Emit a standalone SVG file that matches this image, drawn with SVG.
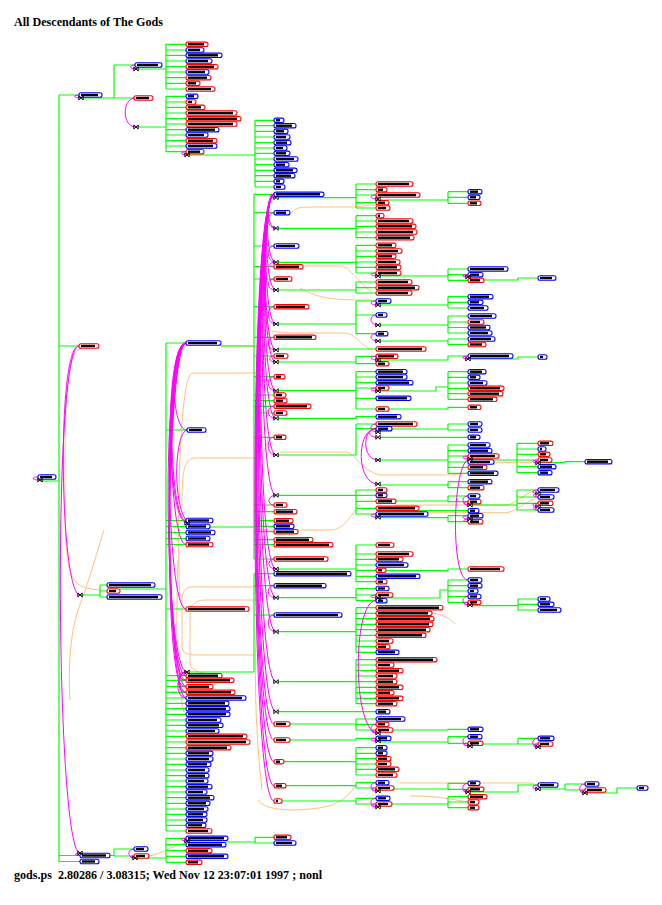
<svg xmlns="http://www.w3.org/2000/svg" xmlns:xlink="http://www.w3.org/1999/xlink" width="662" height="905" viewBox="0 0 662 905">
<style>
.m rect{fill:#fff;stroke:#0000ff;stroke-width:1.1}
.f rect{fill:#fff;stroke:#ff0000;stroke-width:1.1}
.m path,.f path{stroke:#000;stroke-width:2.4;fill:none}
.g{fill:none;stroke:#00ff00;stroke-width:1.2}
.k{fill:none;stroke:#ff00ff;stroke-width:1}
.o{fill:none;stroke:#ffc080;stroke-width:1}
.ttl{font-family:"Liberation Serif","Times New Roman",serif;font-weight:bold;fill:#000}
</style>
<defs><path id="x" d="M-2.2,-2L2.2,2V-2L-2.2,2Z" fill="none" stroke="#000" stroke-width="0.9"/></defs>
<rect width="662" height="905" fill="#fff"/>
<text class="ttl" x="14" y="26" font-size="13" textLength="149" lengthAdjust="spacingAndGlyphs">All Descendants of The Gods</text>
<text class="ttl" x="14" y="879" font-size="12" textLength="308" lengthAdjust="spacingAndGlyphs" xml:space="preserve">gods.ps  2.80286 / 3.08315; Wed Nov 12 23:07:01 1997 ; nonl</text>

<g id="duplicate-links" class="o">
<path d="M81,349C64,352 65,420 65,500S70,588 100,590"/>
<path d="M104,530C96,555 88,585 78,610C70,635 68,670 70,700"/>
<path d="M222,346H255C262,346 264,352 265,360"/>
<path d="M180,600C177,540 178,380 192,373H255C262,373 266,365 268,352"/>
<path d="M182,505C182,470 184,458 196,458H255C262,458 266,450 268,438"/>
<path d="M255,587H192C184,587 182,594 182,602V646C182,652 186,655 196,655H255"/>
<path d="M262,600H205C194,600 190,606 190,616V662C190,668 195,673 206,673"/>
<path d="M178,560C176,620 176,680 184,712"/>
<path d="M291,213C296,207 300,207 320,207H350C362,207 366,205 376,205"/>
<path d="M300,266H340C350,266 355,280 372,292"/>
<path d="M300,288C320,300 340,300 372,300"/>
<path d="M262,330C270,330 275,333 300,333H345C355,333 360,345 372,350"/>
<path d="M280,452H345C355,452 360,470 380,475H448C455,475 460,474 468,473"/>
<path d="M255,530H330C345,530 350,515 360,505"/>
<path d="M395,505H505C515,505 522,495 536,490"/>
<path d="M395,512.7H505C515,512.7 525,502 538,497"/>
<path d="M476,462.7H532"/>
<path d="M400,783H530C535,783 536,786 538,787"/>
<path d="M420,612C440,612 450,618 455,624"/>
<path d="M410,796C440,796 455,800 468,802"/>
<path d="M258,800C265,812 300,812 330,806C345,800 352,792 356,785"/>
<path d="M140,857C160,857 170,845 186,843"/>
<path d="M268,215C262,250 262,300 270,340"/>
<path d="M260,360C255,420 255,520 262,600"/>
<path d="M258,600C254,650 254,720 262,790"/>
</g>

<g id="descent-links" class="g">
<path d="M40,481H59 M59,95V862 M59,95H79 M59,346H79 M59,855.5H80 M59,861.5H80 M81,98H114 M114,65V98 M114,65H135 M114,98H134 M136,69H166 M166,44.3V89 M166,44.3H186 M166,50H186 M166,55.3H186 M166,61H186 M166,66.7H186 M166,72H186 M166,77.7H186 M166,83.3H186 M166,89H186 M136,127H166 M166,96.3V151.7 M166,96.3H186 M166,102H186 M166,107.3H186 M166,113H186 M166,118.7H186 M166,124H186 M166,129.7H186 M166,135H186 M166,140.7H186 M166,146H186 M166,151.7H186 M187,155H255 M255,120.3V187 M255,120.3H274 M255,125.7H274 M255,131.3H274 M255,137H274 M255,142.7H274 M255,148H274 M255,153.3H274 M255,159H274 M255,164.7H274 M255,170.3H274 M255,175.7H274 M255,181.3H274 M255,187H274"/>
<path d="M80,595H100 M100,585V597 M100,585H107 M100,591H107 M100,597H107 M120,589H166 M166,343V831 M166,343H186 M166,430H187 M166,520.5H186 M166,526.5H186 M166,532.5H186 M166,538.5H186 M166,544.5H186 M166,609H186 M166,675.7H186 M166,680.3H186 M166,686.7H186 M166,692.3H186 M166,698H186 M166,703.3H186 M166,708.7H186 M166,714.3H186 M166,720H186 M166,725.3H186 M166,731H186 M166,736.3H186 M166,742H186 M166,747.7H186 M166,753.3H186 M166,759H186 M166,764.3H186 M166,770H186 M166,775.7H186 M166,781H186 M166,786.7H186 M166,792H186 M166,797.7H186 M166,803.3H186 M166,809H186 M166,814.3H186 M166,820H186 M166,825.3H186 M166,831H186"/>
<path d="M221,346H254 M254,194.3V559 M254,194.3H274 M254,212.7H274 M254,246H274 M254,266.7H274 M254,279H274 M254,306.7H274 M254,337.3H274 M254,356H274 M254,376.7H274 M254,395H274 M254,400.7H274 M254,406.3H274 M254,413H274 M254,437.3H274 M254,505H274 M254,511.7H274 M254,520.7H274 M254,526.3H274 M254,531.7H274 M254,539.7H274 M254,544.7H274 M254,559H274 M187,527H254 M187,672H254 M254,573.7V672 M254,573.7H274 M254,585.7H274 M254,615H274"/>
<path d="M110,855.5H114 M114,849V856 M114,849H134 M114,856H134 M135,858H166 M166,838.3V862.3 M166,838.3H186 M166,844.7H186 M166,850.7H186 M166,856.3H186 M166,862.3H186 M187,842H255 M255,837.3V843 M255,837.3H274 M255,843H274"/>
<path d="M278,197.7H356 M356,184V208 M356,184H376 M356,189.7H376 M356,195H376 M356,202.7H376 M356,208H376 M278,228.3H356 M356,215.7V237.7 M356,215.7H376 M356,221H376 M356,226.3H376 M356,232H376 M356,237.7H376 M278,262.3H356 M356,245.3V273 M356,245.3H376 M356,251H376 M356,256.3H376 M356,262H376 M356,267.3H376 M356,273H376 M278,290H356 M356,282V293 M356,282H376 M356,287.7H376 M356,293H376 M278,324H356 M356,301V333.7 M356,301H376 M356,315H376 M356,333.7H376 M278,349H376 M278,362H356 M356,356.3V363.7 M356,356.3H376 M356,363.7H376 M278,390.7H356 M356,371.7V409 M356,371.7H376 M356,377H376 M356,382.7H376 M356,388H376 M356,398.3H376 M356,409H376 M278,418.3H356V416.7H376 M278,455H356V424 M356,424H376 M356,428.7H376 M278,495.3H356 M356,490V514 M356,490H376 M356,495.3H376 M356,501.3H376 M356,508.3H376 M356,514H376 M278,569H356 M356,545V581.7 M356,545H376 M356,554H376 M356,559.3H376 M356,565H376 M356,570.3H376 M356,576.3H376 M356,581.7H376 M278,597.7H356 M356,588.5V600.7 M356,588.5H376 M356,595H376 M356,600.7H376 M278,631.7H356 M356,607.7V652.3 M356,607.7H376 M356,613.3H376 M356,618.7H376 M356,624.3H376 M356,629.7H376 M356,635.3H376 M356,641H376 M356,646.7H376 M356,652.3H376 M278,681.7H356 M356,659.7V703.7 M356,659.7H376 M356,665H376 M356,670.7H376 M356,676H376 M356,681.7H376 M356,687.3H376 M356,692.7H376 M356,698.3H376 M356,703.7H376 M278,711.7H376 M290,724H356 M356,719V730 M356,719H376 M356,724.3H376 M356,730H376 M290,740H356V738.3H376 M284,761.7H356 M356,747.7V775 M356,747.7H376 M356,753.3H376 M356,758.7H376 M356,764H376 M356,769.3H376 M356,775H376 M286,785.7H356 M356,782.7V788 M356,782.7H376 M356,788H376 M282,801H356 M356,798.3V804 M356,798.3H376 M356,804H376"/>
<path d="M380,200H448 M448,191.7V203.3 M448,191.7H468 M448,197.3H468 M448,203.3H468 M380,276H448 M448,269V280.3 M448,269H468 M448,274.7H468 M448,280.3H468 M380,305H448 M448,296.7V308 M448,296.7H468 M448,302.3H468 M448,308H468 M380,325H448 M448,316V333 M448,316H468 M448,322H468 M448,327.5H468 M448,333H468 M380,341H448 M448,339V344.5 M448,339H468 M448,344.5H468 M380,360H448V356H468 M380,391H436V387H448 M448,371.7V399.3 M448,371.7H468 M448,377.3H468 M448,383H468 M448,388.3H468 M448,393.7H468 M448,399.3H468 M389,409H448V407.3H468 M380,429H448 M448,424V430 M448,424H468 M448,430H468 M380,437.3H468 M380,460H448 M448,445V473.3 M448,445H468 M448,450.7H468 M448,456H468 M448,462H468 M448,467.3H468 M448,473.3H468 M380,485H448 M448,481.7V487.7 M448,481.7H468 M448,487.7H468 M396,501H448 M448,496V501.7 M448,496H468 M448,501.7H468 M419,510.7H468 M380,517.7H448 M448,515.7V521.7 M448,515.7H468 M448,521.7H468 M386,570.7H448V569H468 M380,598H440V590H448 M448,580V602.3 M448,580H468 M448,585.7H468 M448,591H468 M448,596.5H468 M448,602.3H468 M393,730H448V729.3H468 M380,742H448 M448,736.7V743.3 M448,736.7H468 M448,743.3H468 M380,789H448 M448,783.3V789.3 M448,783.3H468 M448,789.3H468 M380,804H448 M448,796.7V807.7 M448,796.7H468 M448,802H468 M448,807.7H468"/>
<path d="M484,280H518V278H538 M470,359H518V357H538 M472,460H517 M517,443.3V472.7 M517,443.3H538 M517,449H538 M517,454.3H538 M517,460H538 M517,466.7H538 M517,472.7H538 M472,505H517 M517,490V510 M517,490H538 M517,497H538 M517,503.3H538 M517,510H538 M472,605.7H518 M518,599V610 M518,599H538 M518,604.3H538 M518,610H538 M472,744H518 M518,738.3V744 M518,738.3H538 M518,744H538 M470,792H518V785H538 M540,462.7H565V461.7H585 M540,789H565 M565,784V790 M565,784H585 M565,790H585 M587,793H617V788H637"/>
</g>

<g id="marriage-links" class="k">
<path d="M38,477C31,477 31,480 40,480 M79,95C73,95 73,98 81,98 M135,65C129,65 129,69 136,69 M134,98C122,100 122,127 136,127 M186,151.7C180,151.7 180,155 187,155 M79,346C56,346 60,595 80,595 M79,346C52,346 56,853 80,853 M80,855.5C74,855.5 74,853 80,853 M134,849C127,849 127,858 135,858 M134,856C129,856 129,858 135,858 M186,838.3C180,838.3 180,841 187,841"/>
<path d="M186,343C170,343 170,430 187,430 M186,343C166,343 168,520.5 186,520.5 M186,343C164,343 166,523 187,523 M186,343C165,343 168,544.5 186,544.5 M186,343C162,343 166,609 186,609 M186,343C160,343 164,672 187,672 M186,675.7C163,675.7 165,343 186,343 M186,680.3C161,680.3 167,343 186,343 M186,686.7C165,686.7 163,343 186,343 M186,692.3C160,692.3 168,343 186,343 M186,698H186C166,698 161,343 186,343 M186,675.7C178,675.7 178,672 187,672 M186,680.3C178,680.3 178,672 187,672 M186,686.7C177,686.7 177,672 187,672 M186,692.3C176,692.3 176,672 187,672 M186,698C175,698 175,672 187,672 M187,430C175,432 172,500 186,520.5"/>
<path d="M274,194.3C268,194.3 268,197.7 276,197.7 M274,194.3C266,194.3 266,228.3 276,228.3 M274,194.3C265,194.3 265,262.3 276,262.3 M274,194.3C264,194.3 264,290 276,290 M274,194.3C263,194.3 263,324 276,324 M274,194.3C262,194.3 262,350 276,350 M274,194.3C262,194.3 261,362 276,362 M274,194.3C261,194.3 261,390.7 276,390.7 M274,194.3C260,194.3 260,418.3 276,418.3 M274,194.3C259,194.3 259,455 276,455 M274,194.3C258,194.3 258,495.3 276,495.3 M274,194.3C256,194.3 256,569 276,569 M274,194.3C255,194.3 255,597.7 276,597.7 M274,194.3C254,194.3 254,631.7 276,631.7 M274,194.3C253,194.3 253,681.7 276,681.7 M274,194.3C252,194.3 252,711.7 276,711.7 M274,194.3C251,194.3 251,724 274,724 M274,194.3C251,194.3 250,740 274,740 M274,194.3C250,194.3 250,761.7 274,761.7 M274,194.3C249,194.3 250,785.7 274,785.7 M274,194.3C248,194.3 249,801 274,801"/>
<path d="M274,212.7C266,212.7 266,228.3 276,228.3 M274,246C266,246 266,262.3 276,262.3 M274,266.7C268,266.7 268,262.3 276,262.3 M274,279C266,279 266,290 276,290 M274,306.7C266,306.7 266,324 276,324 M274,337.3C266,337.3 266,350 276,350 M274,356C268,356 268,362 276,362 M274,376.7C266,376.7 266,390.7 276,390.7 M274,406.3C266,406.3 266,418.3 276,418.3 M274,437.3C266,437.3 266,455 276,455 M274,505C267,505 267,495.3 276,495.3 M274,559C267,559 267,569 276,569 M274,585.7C266,585.7 266,597.7 276,597.7 M274,615C266,615 266,631.7 276,631.7"/>
<path d="M376,195C369,195 369,199 378,199 M376,273C369,273 369,276 378,276 M376,301C369,301 369,305 378,305 M376,315C369,315 369,325 378,325 M376,333.7C369,333.7 369,341 378,341 M376,356.3C369,356.3 369,360 378,360 M376,388C369,388 369,391 378,391 M376,424C369,424 369,432 378,432 M376,428.7C367,428.7 367,437.3 378,437.3 M376,428.7C362,428.7 362,460 378,460 M376,428.7C356,428.7 356,484 378,484 M376,514C369,514 369,517.3 378,517.3 M376,595C369,595 369,598 378,598 M376,600.7C352,600.7 352,733 378,733 M376,724.3C369,724.3 369,733 378,733 M376,730C370,730 370,733 378,733 M376,738.3C369,738.3 369,741 378,741 M376,782.7C369,782.7 369,791 378,791 M376,788C370,788 370,791 378,791 M376,798.3C369,798.3 369,807 378,807 M376,804C370,804 370,807 378,807"/>
<path d="M468,274.7C461,274.7 461,277 468,277 M468,356C461,356 461,359 468,359 M468,456C461,456 461,459 470,459 M468,580C450,580 452,459 470,459 M468,496C461,496 461,505 470,505 M468,501.7C462,501.7 462,505 470,505 M468,515.7C461,515.7 461,519 470,519 M468,521.7C462,521.7 462,519 470,519 M468,596.5C461,596.5 461,605 470,605 M468,602.3C462,602.3 462,605 470,605 M468,736.7C461,736.7 461,746 470,746 M468,743.3C462,743.3 462,746 470,746 M468,783.3C461,783.3 461,792 468,792 M468,789.3C462,789.3 462,792 468,792"/>
<path d="M538,460C531,460 531,463 538,463 M538,490C531,490 531,493.5 538,493.5 M538,497C532,497 532,493.5 538,493.5 M538,503.3C531,503.3 531,506.5 538,506.5 M538,510C532,510 532,506.5 538,506.5 M538,738.3C531,738.3 531,747 538,747 M538,744C532,744 532,747 538,747 M538,785C531,785 531,789 538,789 M585,784C578,784 578,793 585,793 M585,790C579,790 579,793 585,793"/>
</g>

<g id="nodes">
<g id="n38_477" class="m" transform="translate(38,477)"><rect y="-2.2" width="18" height="4.4" rx="2"/><path d="M2,0h12"/></g>
<g id="n79_95" class="m" transform="translate(79,95)"><rect y="-2.2" width="23" height="4.4" rx="2"/><path d="M2,0h17"/></g>
<g id="n79_346" class="f" transform="translate(79,346)"><rect y="-2.2" width="20" height="4.4" rx="2"/><path d="M2,0h14"/></g>
<g id="n107_585" class="m" transform="translate(107,585)"><rect y="-2.2" width="48" height="4.4" rx="2"/><path d="M2,0h42"/></g>
<g id="n107_591" class="f" transform="translate(107,591)"><rect y="-2.2" width="13" height="4.4" rx="2"/><path d="M2,0h7"/></g>
<g id="n107_597" class="m" transform="translate(107,597)"><rect y="-2.2" width="55" height="4.4" rx="2"/><path d="M2,0h49"/></g>
<g id="n80_855" class="m" transform="translate(80,855.5)"><rect y="-2.2" width="30" height="4.4" rx="2"/><path d="M2,0h24"/></g>
<g id="n80_861" class="m" transform="translate(80,861.5)"><rect y="-2.2" width="19" height="4.4" rx="2"/><path d="M2,0h13"/></g>
<g id="n135_65" class="m" transform="translate(135,65)"><rect y="-2.2" width="27" height="4.4" rx="2"/><path d="M2,0h21"/></g>
<g id="n134_98" class="f" transform="translate(134,98)"><rect y="-2.2" width="19" height="4.4" rx="2"/><path d="M2,0h13"/></g>
<g id="n134_849" class="m" transform="translate(134,849)"><rect y="-2.2" width="14" height="4.4" rx="2"/><path d="M2,0h8"/></g>
<g id="n134_856" class="f" transform="translate(134,856)"><rect y="-2.2" width="15" height="4.4" rx="2"/><path d="M2,0h9"/></g>

<g id="n186_44" class="f" transform="translate(186,44.3)"><rect y="-2.2" width="22" height="4.4" rx="2"/><path d="M2,0h16"/></g>
<g id="n186_50" class="m" transform="translate(186,50)"><rect y="-2.2" width="18" height="4.4" rx="2"/><path d="M2,0h12"/></g>
<g id="n186_55" class="m" transform="translate(186,55.3)"><rect y="-2.2" width="36" height="4.4" rx="2"/><path d="M2,0h30"/></g>
<g id="n186_61" class="m" transform="translate(186,61)"><rect y="-2.2" width="26" height="4.4" rx="2"/><path d="M2,0h20"/></g>
<g id="n186_66" class="f" transform="translate(186,66.7)"><rect y="-2.2" width="32" height="4.4" rx="2"/><path d="M2,0h26"/></g>
<g id="n186_72" class="m" transform="translate(186,72)"><rect y="-2.2" width="23" height="4.4" rx="2"/><path d="M2,0h17"/></g>
<g id="n186_77" class="f" transform="translate(186,77.7)"><rect y="-2.2" width="25" height="4.4" rx="2"/><path d="M2,0h19"/></g>
<g id="n186_83" class="f" transform="translate(186,83.3)"><rect y="-2.2" width="14" height="4.4" rx="2"/><path d="M2,0h8"/></g>
<g id="n186_89" class="f" transform="translate(186,89)"><rect y="-2.2" width="29" height="4.4" rx="2"/><path d="M2,0h23"/></g>
<g id="n186_96" class="m" transform="translate(186,96.3)"><rect y="-2.2" width="12" height="4.4" rx="2"/><path d="M2,0h6"/></g>
<g id="n186_102" class="f" transform="translate(186,102)"><rect y="-2.2" width="10" height="4.4" rx="2"/><path d="M2,0h4"/></g>
<g id="n186_107" class="f" transform="translate(186,107.3)"><rect y="-2.2" width="19" height="4.4" rx="2"/><path d="M2,0h13"/></g>
<g id="n186_113" class="f" transform="translate(186,113)"><rect y="-2.2" width="51" height="4.4" rx="2"/><path d="M2,0h45"/></g>
<g id="n186_118" class="f" transform="translate(186,118.7)"><rect y="-2.2" width="55" height="4.4" rx="2"/><path d="M2,0h49"/></g>
<g id="n186_124" class="f" transform="translate(186,124)"><rect y="-2.2" width="51" height="4.4" rx="2"/><path d="M2,0h45"/></g>
<g id="n186_129" class="m" transform="translate(186,129.7)"><rect y="-2.2" width="33" height="4.4" rx="2"/><path d="M2,0h27"/></g>
<g id="n186_135" class="m" transform="translate(186,135)"><rect y="-2.2" width="22" height="4.4" rx="2"/><path d="M2,0h16"/></g>
<g id="n186_140" class="f" transform="translate(186,140.7)"><rect y="-2.2" width="31" height="4.4" rx="2"/><path d="M2,0h25"/></g>
<g id="n186_146" class="m" transform="translate(186,146)"><rect y="-2.2" width="31" height="4.4" rx="2"/><path d="M2,0h25"/></g>
<g id="n186_151" class="f" transform="translate(186,151.7)"><rect y="-2.2" width="18" height="4.4" rx="2"/><path d="M2,0h12"/></g>

<g id="n274_120" class="m" transform="translate(274,120.3)"><rect y="-2.2" width="10" height="4.4" rx="2"/><path d="M2,0h4"/></g>
<g id="n274_125" class="m" transform="translate(274,125.7)"><rect y="-2.2" width="22" height="4.4" rx="2"/><path d="M2,0h16"/></g>
<g id="n274_131" class="m" transform="translate(274,131.3)"><rect y="-2.2" width="14" height="4.4" rx="2"/><path d="M2,0h8"/></g>
<g id="n274_137" class="m" transform="translate(274,137)"><rect y="-2.2" width="16" height="4.4" rx="2"/><path d="M2,0h10"/></g>
<g id="n274_142" class="m" transform="translate(274,142.7)"><rect y="-2.2" width="17" height="4.4" rx="2"/><path d="M2,0h11"/></g>
<g id="n274_148" class="m" transform="translate(274,148)"><rect y="-2.2" width="13" height="4.4" rx="2"/><path d="M2,0h7"/></g>
<g id="n274_153" class="m" transform="translate(274,153.3)"><rect y="-2.2" width="16" height="4.4" rx="2"/><path d="M2,0h10"/></g>
<g id="n274_159" class="m" transform="translate(274,159)"><rect y="-2.2" width="24" height="4.4" rx="2"/><path d="M2,0h18"/></g>
<g id="n274_164" class="m" transform="translate(274,164.7)"><rect y="-2.2" width="15" height="4.4" rx="2"/><path d="M2,0h9"/></g>
<g id="n274_170" class="m" transform="translate(274,170.3)"><rect y="-2.2" width="23" height="4.4" rx="2"/><path d="M2,0h17"/></g>
<g id="n274_175" class="m" transform="translate(274,175.7)"><rect y="-2.2" width="21" height="4.4" rx="2"/><path d="M2,0h15"/></g>
<g id="n274_181" class="m" transform="translate(274,181.3)"><rect y="-2.2" width="10" height="4.4" rx="2"/><path d="M2,0h4"/></g>
<g id="n274_187" class="m" transform="translate(274,187)"><rect y="-2.2" width="11" height="4.4" rx="2"/><path d="M2,0h5"/></g>

<g id="n186_343" class="m" transform="translate(186,343)"><rect y="-2.2" width="35" height="4.4" rx="2"/><path d="M2,0h29"/></g>
<g id="n187_430" class="m" transform="translate(187,430)"><rect y="-2.2" width="19" height="4.4" rx="2"/><path d="M2,0h13"/></g>
<g id="n186_520" class="m" transform="translate(186,520.5)"><rect y="-2.2" width="27" height="4.4" rx="2"/><path d="M2,0h21"/></g>
<g id="n186_526" class="m" transform="translate(186,526.5)"><rect y="-2.2" width="24" height="4.4" rx="2"/><path d="M2,0h18"/></g>
<g id="n186_532" class="m" transform="translate(186,532.5)"><rect y="-2.2" width="29" height="4.4" rx="2"/><path d="M2,0h23"/></g>
<g id="n186_538" class="m" transform="translate(186,538.5)"><rect y="-2.2" width="24" height="4.4" rx="2"/><path d="M2,0h18"/></g>
<g id="n186_544" class="f" transform="translate(186,544.5)"><rect y="-2.2" width="27" height="4.4" rx="2"/><path d="M2,0h21"/></g>
<g id="n186_609" class="f" transform="translate(186,609)"><rect y="-2.2" width="63" height="4.4" rx="2"/><path d="M2,0h57"/></g>
<g id="n186_675" class="f" transform="translate(186,675.7)"><rect y="-2.2" width="36" height="4.4" rx="2"/><path d="M2,0h30"/></g>
<g id="n186_680" class="f" transform="translate(186,680.3)"><rect y="-2.2" width="48" height="4.4" rx="2"/><path d="M2,0h42"/></g>
<g id="n186_686" class="f" transform="translate(186,686.7)"><rect y="-2.2" width="27" height="4.4" rx="2"/><path d="M2,0h21"/></g>
<g id="n186_692" class="f" transform="translate(186,692.3)"><rect y="-2.2" width="49" height="4.4" rx="2"/><path d="M2,0h43"/></g>
<g id="n186_698" class="m" transform="translate(186,698)"><rect y="-2.2" width="60" height="4.4" rx="2"/><path d="M2,0h54"/></g>
<g id="n186_703" class="m" transform="translate(186,703.3)"><rect y="-2.2" width="43" height="4.4" rx="2"/><path d="M2,0h37"/></g>
<g id="n186_708" class="m" transform="translate(186,708.7)"><rect y="-2.2" width="44" height="4.4" rx="2"/><path d="M2,0h38"/></g>
<g id="n186_714" class="m" transform="translate(186,714.3)"><rect y="-2.2" width="44" height="4.4" rx="2"/><path d="M2,0h38"/></g>
<g id="n186_720" class="m" transform="translate(186,720)"><rect y="-2.2" width="35" height="4.4" rx="2"/><path d="M2,0h29"/></g>
<g id="n186_725" class="m" transform="translate(186,725.3)"><rect y="-2.2" width="37" height="4.4" rx="2"/><path d="M2,0h31"/></g>
<g id="n186_731" class="m" transform="translate(186,731)"><rect y="-2.2" width="33" height="4.4" rx="2"/><path d="M2,0h27"/></g>
<g id="n186_736" class="f" transform="translate(186,736.3)"><rect y="-2.2" width="61" height="4.4" rx="2"/><path d="M2,0h55"/></g>
<g id="n186_742" class="f" transform="translate(186,742)"><rect y="-2.2" width="64" height="4.4" rx="2"/><path d="M2,0h58"/></g>
<g id="n186_747" class="f" transform="translate(186,747.7)"><rect y="-2.2" width="45" height="4.4" rx="2"/><path d="M2,0h39"/></g>
<g id="n186_753" class="m" transform="translate(186,753.3)"><rect y="-2.2" width="27" height="4.4" rx="2"/><path d="M2,0h21"/></g>
<g id="n186_759" class="m" transform="translate(186,759)"><rect y="-2.2" width="27" height="4.4" rx="2"/><path d="M2,0h21"/></g>
<g id="n186_764" class="m" transform="translate(186,764.3)"><rect y="-2.2" width="25" height="4.4" rx="2"/><path d="M2,0h19"/></g>
<g id="n186_770" class="m" transform="translate(186,770)"><rect y="-2.2" width="23" height="4.4" rx="2"/><path d="M2,0h17"/></g>
<g id="n186_775" class="m" transform="translate(186,775.7)"><rect y="-2.2" width="23" height="4.4" rx="2"/><path d="M2,0h17"/></g>
<g id="n186_781" class="m" transform="translate(186,781)"><rect y="-2.2" width="22" height="4.4" rx="2"/><path d="M2,0h16"/></g>
<g id="n186_786" class="m" transform="translate(186,786.7)"><rect y="-2.2" width="26" height="4.4" rx="2"/><path d="M2,0h20"/></g>
<g id="n186_792" class="m" transform="translate(186,792)"><rect y="-2.2" width="21" height="4.4" rx="2"/><path d="M2,0h15"/></g>
<g id="n186_797" class="m" transform="translate(186,797.7)"><rect y="-2.2" width="28" height="4.4" rx="2"/><path d="M2,0h22"/></g>
<g id="n186_803" class="m" transform="translate(186,803.3)"><rect y="-2.2" width="24" height="4.4" rx="2"/><path d="M2,0h18"/></g>
<g id="n186_809" class="m" transform="translate(186,809)"><rect y="-2.2" width="22" height="4.4" rx="2"/><path d="M2,0h16"/></g>
<g id="n186_814" class="m" transform="translate(186,814.3)"><rect y="-2.2" width="21" height="4.4" rx="2"/><path d="M2,0h15"/></g>
<g id="n186_820" class="m" transform="translate(186,820)"><rect y="-2.2" width="21" height="4.4" rx="2"/><path d="M2,0h15"/></g>
<g id="n186_825" class="m" transform="translate(186,825.3)"><rect y="-2.2" width="20" height="4.4" rx="2"/><path d="M2,0h14"/></g>
<g id="n186_831" class="f" transform="translate(186,831)"><rect y="-2.2" width="26" height="4.4" rx="2"/><path d="M2,0h20"/></g>
<g id="n186_838" class="m" transform="translate(186,838.3)"><rect y="-2.2" width="42" height="4.4" rx="2"/><path d="M2,0h36"/></g>
<g id="n186_844" class="m" transform="translate(186,844.7)"><rect y="-2.2" width="40" height="4.4" rx="2"/><path d="M2,0h34"/></g>
<g id="n186_850" class="f" transform="translate(186,850.7)"><rect y="-2.2" width="26" height="4.4" rx="2"/><path d="M2,0h20"/></g>
<g id="n186_856" class="m" transform="translate(186,856.3)"><rect y="-2.2" width="42" height="4.4" rx="2"/><path d="M2,0h36"/></g>
<g id="n186_862" class="f" transform="translate(186,862.3)"><rect y="-2.2" width="16" height="4.4" rx="2"/><path d="M2,0h10"/></g>

<g id="n274_194" class="m" transform="translate(274,194.3)"><rect y="-2.2" width="50" height="4.4" rx="2"/><path d="M2,0h44"/></g>
<g id="n274_212" class="m" transform="translate(274,212.7)"><rect y="-2.2" width="16" height="4.4" rx="2"/><path d="M2,0h10"/></g>
<g id="n274_246" class="m" transform="translate(274,246)"><rect y="-2.2" width="25" height="4.4" rx="2"/><path d="M2,0h19"/></g>
<g id="n274_266" class="f" transform="translate(274,266.7)"><rect y="-2.2" width="29" height="4.4" rx="2"/><path d="M2,0h23"/></g>
<g id="n274_279" class="f" transform="translate(274,279)"><rect y="-2.2" width="18" height="4.4" rx="2"/><path d="M2,0h12"/></g>
<g id="n274_306" class="f" transform="translate(274,306.7)"><rect y="-2.2" width="35" height="4.4" rx="2"/><path d="M2,0h29"/></g>
<g id="n274_337" class="f" transform="translate(274,337.3)"><rect y="-2.2" width="42" height="4.4" rx="2"/><path d="M2,0h36"/></g>
<g id="n274_356" class="f" transform="translate(274,356)"><rect y="-2.2" width="14" height="4.4" rx="2"/><path d="M2,0h8"/></g>
<g id="n274_376" class="f" transform="translate(274,376.7)"><rect y="-2.2" width="11" height="4.4" rx="2"/><path d="M2,0h5"/></g>
<g id="n274_395" class="f" transform="translate(274,395)"><rect y="-2.2" width="12" height="4.4" rx="2"/><path d="M2,0h6"/></g>
<g id="n274_400" class="f" transform="translate(274,400.7)"><rect y="-2.2" width="13" height="4.4" rx="2"/><path d="M2,0h7"/></g>
<g id="n274_406" class="f" transform="translate(274,406.3)"><rect y="-2.2" width="37" height="4.4" rx="2"/><path d="M2,0h31"/></g>
<g id="n274_413" class="f" transform="translate(274,413)"><rect y="-2.2" width="13" height="4.4" rx="2"/><path d="M2,0h7"/></g>
<g id="n274_437" class="f" transform="translate(274,437.3)"><rect y="-2.2" width="12" height="4.4" rx="2"/><path d="M2,0h6"/></g>
<g id="n274_505" class="f" transform="translate(274,505)"><rect y="-2.2" width="13" height="4.4" rx="2"/><path d="M2,0h7"/></g>
<g id="n274_511" class="f" transform="translate(274,511.7)"><rect y="-2.2" width="23" height="4.4" rx="2"/><path d="M2,0h17"/></g>
<g id="n274_520" class="f" transform="translate(274,520.7)"><rect y="-2.2" width="19" height="4.4" rx="2"/><path d="M2,0h13"/></g>
<g id="n274_526" class="m" transform="translate(274,526.3)"><rect y="-2.2" width="20" height="4.4" rx="2"/><path d="M2,0h14"/></g>
<g id="n274_531" class="f" transform="translate(274,531.7)"><rect y="-2.2" width="24" height="4.4" rx="2"/><path d="M2,0h18"/></g>
<g id="n274_539" class="f" transform="translate(274,539.7)"><rect y="-2.2" width="39" height="4.4" rx="2"/><path d="M2,0h33"/></g>
<g id="n274_544" class="f" transform="translate(274,544.7)"><rect y="-2.2" width="59" height="4.4" rx="2"/><path d="M2,0h53"/></g>
<g id="n274_559" class="f" transform="translate(274,559)"><rect y="-2.2" width="54" height="4.4" rx="2"/><path d="M2,0h48"/></g>
<g id="n274_573" class="m" transform="translate(274,573.7)"><rect y="-2.2" width="77" height="4.4" rx="2"/><path d="M2,0h71"/></g>
<g id="n274_585" class="m" transform="translate(274,585.7)"><rect y="-2.2" width="52" height="4.4" rx="2"/><path d="M2,0h46"/></g>
<g id="n274_615" class="m" transform="translate(274,615)"><rect y="-2.2" width="68" height="4.4" rx="2"/><path d="M2,0h62"/></g>
<g id="n274_724" class="f" transform="translate(274,724)"><rect y="-2.2" width="16" height="4.4" rx="2"/><path d="M2,0h10"/></g>
<g id="n274_740" class="f" transform="translate(274,740)"><rect y="-2.2" width="16" height="4.4" rx="2"/><path d="M2,0h10"/></g>
<g id="n274_761" class="f" transform="translate(274,761.7)"><rect y="-2.2" width="10" height="4.4" rx="2"/><path d="M2,0h4"/></g>
<g id="n274_785" class="f" transform="translate(274,785.7)"><rect y="-2.2" width="12" height="4.4" rx="2"/><path d="M2,0h6"/></g>
<g id="n274_801" class="f" transform="translate(274,801)"><rect y="-2.2" width="8" height="4.4" rx="2"/><path d="M2,0h2"/></g>
<g id="n274_837" class="f" transform="translate(274,837.3)"><rect y="-2.2" width="17" height="4.4" rx="2"/><path d="M2,0h11"/></g>
<g id="n274_843" class="m" transform="translate(274,843)"><rect y="-2.2" width="22" height="4.4" rx="2"/><path d="M2,0h16"/></g>

<g id="n376_184" class="f" transform="translate(376,184)"><rect y="-2.2" width="37" height="4.4" rx="2"/><path d="M2,0h31"/></g>
<g id="n376_189" class="f" transform="translate(376,189.7)"><rect y="-2.2" width="11" height="4.4" rx="2"/><path d="M2,0h5"/></g>
<g id="n376_195" class="f" transform="translate(376,195)"><rect y="-2.2" width="44" height="4.4" rx="2"/><path d="M2,0h38"/></g>
<g id="n376_202" class="f" transform="translate(376,202.7)"><rect y="-2.2" width="13" height="4.4" rx="2"/><path d="M2,0h7"/></g>
<g id="n376_208" class="f" transform="translate(376,208)"><rect y="-2.2" width="14" height="4.4" rx="2"/><path d="M2,0h8"/></g>
<g id="n376_215" class="f" transform="translate(376,215.7)"><rect y="-2.2" width="8" height="4.4" rx="2"/><path d="M2,0h2"/></g>
<g id="n376_221" class="f" transform="translate(376,221)"><rect y="-2.2" width="37" height="4.4" rx="2"/><path d="M2,0h31"/></g>
<g id="n376_226" class="f" transform="translate(376,226.3)"><rect y="-2.2" width="40" height="4.4" rx="2"/><path d="M2,0h34"/></g>
<g id="n376_232" class="f" transform="translate(376,232)"><rect y="-2.2" width="41" height="4.4" rx="2"/><path d="M2,0h35"/></g>
<g id="n376_237" class="f" transform="translate(376,237.7)"><rect y="-2.2" width="38" height="4.4" rx="2"/><path d="M2,0h32"/></g>
<g id="n376_245" class="f" transform="translate(376,245.3)"><rect y="-2.2" width="20" height="4.4" rx="2"/><path d="M2,0h14"/></g>
<g id="n376_251" class="f" transform="translate(376,251)"><rect y="-2.2" width="26" height="4.4" rx="2"/><path d="M2,0h20"/></g>
<g id="n376_256" class="f" transform="translate(376,256.3)"><rect y="-2.2" width="20" height="4.4" rx="2"/><path d="M2,0h14"/></g>
<g id="n376_262" class="f" transform="translate(376,262)"><rect y="-2.2" width="24" height="4.4" rx="2"/><path d="M2,0h18"/></g>
<g id="n376_267" class="f" transform="translate(376,267.3)"><rect y="-2.2" width="25" height="4.4" rx="2"/><path d="M2,0h19"/></g>
<g id="n376_273" class="f" transform="translate(376,273)"><rect y="-2.2" width="25" height="4.4" rx="2"/><path d="M2,0h19"/></g>
<g id="n376_282" class="f" transform="translate(376,282)"><rect y="-2.2" width="36" height="4.4" rx="2"/><path d="M2,0h30"/></g>
<g id="n376_287" class="f" transform="translate(376,287.7)"><rect y="-2.2" width="43" height="4.4" rx="2"/><path d="M2,0h37"/></g>
<g id="n376_293" class="f" transform="translate(376,293)"><rect y="-2.2" width="36" height="4.4" rx="2"/><path d="M2,0h30"/></g>
<g id="n376_301" class="m" transform="translate(376,301)"><rect y="-2.2" width="15" height="4.4" rx="2"/><path d="M2,0h9"/></g>
<g id="n376_315" class="m" transform="translate(376,315)"><rect y="-2.2" width="11" height="4.4" rx="2"/><path d="M2,0h5"/></g>
<g id="n376_333" class="m" transform="translate(376,333.7)"><rect y="-2.2" width="12" height="4.4" rx="2"/><path d="M2,0h6"/></g>
<g id="n376_349" class="f" transform="translate(376,349)"><rect y="-2.2" width="50" height="4.4" rx="2"/><path d="M2,0h44"/></g>
<g id="n376_356" class="f" transform="translate(376,356.3)"><rect y="-2.2" width="22" height="4.4" rx="2"/><path d="M2,0h16"/></g>
<g id="n376_363" class="f" transform="translate(376,363.7)"><rect y="-2.2" width="13" height="4.4" rx="2"/><path d="M2,0h7"/></g>
<g id="n376_371" class="m" transform="translate(376,371.7)"><rect y="-2.2" width="31" height="4.4" rx="2"/><path d="M2,0h25"/></g>
<g id="n376_377" class="m" transform="translate(376,377)"><rect y="-2.2" width="31" height="4.4" rx="2"/><path d="M2,0h25"/></g>
<g id="n376_382" class="m" transform="translate(376,382.7)"><rect y="-2.2" width="37" height="4.4" rx="2"/><path d="M2,0h31"/></g>
<g id="n376_388" class="f" transform="translate(376,388)"><rect y="-2.2" width="13" height="4.4" rx="2"/><path d="M2,0h7"/></g>
<g id="n376_398" class="m" transform="translate(376,398.3)"><rect y="-2.2" width="35" height="4.4" rx="2"/><path d="M2,0h29"/></g>
<g id="n376_409" class="f" transform="translate(376,409)"><rect y="-2.2" width="13" height="4.4" rx="2"/><path d="M2,0h7"/></g>
<g id="n376_416" class="m" transform="translate(376,416.7)"><rect y="-2.2" width="25" height="4.4" rx="2"/><path d="M2,0h19"/></g>
<g id="n376_424" class="f" transform="translate(376,424)"><rect y="-2.2" width="41" height="4.4" rx="2"/><path d="M2,0h35"/></g>
<g id="n376_428" class="m" transform="translate(376,428.7)"><rect y="-2.2" width="16" height="4.4" rx="2"/><path d="M2,0h10"/></g>
<g id="n376_490" class="f" transform="translate(376,490)"><rect y="-2.2" width="11" height="4.4" rx="2"/><path d="M2,0h5"/></g>
<g id="n376_495" class="m" transform="translate(376,495.3)"><rect y="-2.2" width="11" height="4.4" rx="2"/><path d="M2,0h5"/></g>
<g id="n376_501" class="f" transform="translate(376,501.3)"><rect y="-2.2" width="20" height="4.4" rx="2"/><path d="M2,0h14"/></g>
<g id="n376_508" class="f" transform="translate(376,508.3)"><rect y="-2.2" width="43" height="4.4" rx="2"/><path d="M2,0h37"/></g>
<g id="n376_514" class="m" transform="translate(376,514)"><rect y="-2.2" width="52" height="4.4" rx="2"/><path d="M2,0h46"/></g>
<g id="n376_545" class="f" transform="translate(376,545)"><rect y="-2.2" width="18" height="4.4" rx="2"/><path d="M2,0h12"/></g>
<g id="n376_554" class="f" transform="translate(376,554)"><rect y="-2.2" width="37" height="4.4" rx="2"/><path d="M2,0h31"/></g>
<g id="n376_559" class="f" transform="translate(376,559.3)"><rect y="-2.2" width="27" height="4.4" rx="2"/><path d="M2,0h21"/></g>
<g id="n376_565" class="m" transform="translate(376,565)"><rect y="-2.2" width="32" height="4.4" rx="2"/><path d="M2,0h26"/></g>
<g id="n376_570" class="f" transform="translate(376,570.3)"><rect y="-2.2" width="10" height="4.4" rx="2"/><path d="M2,0h4"/></g>
<g id="n376_576" class="m" transform="translate(376,576.3)"><rect y="-2.2" width="44" height="4.4" rx="2"/><path d="M2,0h38"/></g>
<g id="n376_581" class="f" transform="translate(376,581.7)"><rect y="-2.2" width="11" height="4.4" rx="2"/><path d="M2,0h5"/></g>
<g id="n376_588" class="m" transform="translate(376,588.5)"><rect y="-2.2" width="13" height="4.4" rx="2"/><path d="M2,0h7"/></g>
<g id="n376_595" class="f" transform="translate(376,595)"><rect y="-2.2" width="17" height="4.4" rx="2"/><path d="M2,0h11"/></g>
<g id="n376_600" class="m" transform="translate(376,600.7)"><rect y="-2.2" width="11" height="4.4" rx="2"/><path d="M2,0h5"/></g>
<g id="n376_607" class="f" transform="translate(376,607.7)"><rect y="-2.2" width="67" height="4.4" rx="2"/><path d="M2,0h61"/></g>
<g id="n376_613" class="f" transform="translate(376,613.3)"><rect y="-2.2" width="56" height="4.4" rx="2"/><path d="M2,0h50"/></g>
<g id="n376_618" class="f" transform="translate(376,618.7)"><rect y="-2.2" width="58" height="4.4" rx="2"/><path d="M2,0h52"/></g>
<g id="n376_624" class="f" transform="translate(376,624.3)"><rect y="-2.2" width="57" height="4.4" rx="2"/><path d="M2,0h51"/></g>
<g id="n376_629" class="f" transform="translate(376,629.7)"><rect y="-2.2" width="54" height="4.4" rx="2"/><path d="M2,0h48"/></g>
<g id="n376_635" class="f" transform="translate(376,635.3)"><rect y="-2.2" width="50" height="4.4" rx="2"/><path d="M2,0h44"/></g>
<g id="n376_641" class="f" transform="translate(376,641)"><rect y="-2.2" width="17" height="4.4" rx="2"/><path d="M2,0h11"/></g>
<g id="n376_646" class="f" transform="translate(376,646.7)"><rect y="-2.2" width="14" height="4.4" rx="2"/><path d="M2,0h8"/></g>
<g id="n376_652" class="m" transform="translate(376,652.3)"><rect y="-2.2" width="23" height="4.4" rx="2"/><path d="M2,0h17"/></g>
<g id="n376_659" class="f" transform="translate(376,659.7)"><rect y="-2.2" width="61" height="4.4" rx="2"/><path d="M2,0h55"/></g>
<g id="n376_665" class="f" transform="translate(376,665)"><rect y="-2.2" width="18" height="4.4" rx="2"/><path d="M2,0h12"/></g>
<g id="n376_670" class="f" transform="translate(376,670.7)"><rect y="-2.2" width="27" height="4.4" rx="2"/><path d="M2,0h21"/></g>
<g id="n376_676" class="f" transform="translate(376,676)"><rect y="-2.2" width="21" height="4.4" rx="2"/><path d="M2,0h15"/></g>
<g id="n376_681" class="f" transform="translate(376,681.7)"><rect y="-2.2" width="21" height="4.4" rx="2"/><path d="M2,0h15"/></g>
<g id="n376_687" class="f" transform="translate(376,687.3)"><rect y="-2.2" width="27" height="4.4" rx="2"/><path d="M2,0h21"/></g>
<g id="n376_692" class="f" transform="translate(376,692.7)"><rect y="-2.2" width="18" height="4.4" rx="2"/><path d="M2,0h12"/></g>
<g id="n376_698" class="f" transform="translate(376,698.3)"><rect y="-2.2" width="27" height="4.4" rx="2"/><path d="M2,0h21"/></g>
<g id="n376_703" class="f" transform="translate(376,703.7)"><rect y="-2.2" width="21" height="4.4" rx="2"/><path d="M2,0h15"/></g>
<g id="n376_711" class="m" transform="translate(376,711.7)"><rect y="-2.2" width="14" height="4.4" rx="2"/><path d="M2,0h8"/></g>
<g id="n376_719" class="m" transform="translate(376,719)"><rect y="-2.2" width="29" height="4.4" rx="2"/><path d="M2,0h23"/></g>
<g id="n376_724" class="f" transform="translate(376,724.3)"><rect y="-2.2" width="13" height="4.4" rx="2"/><path d="M2,0h7"/></g>
<g id="n376_730" class="f" transform="translate(376,730)"><rect y="-2.2" width="17" height="4.4" rx="2"/><path d="M2,0h11"/></g>
<g id="n376_738" class="m" transform="translate(376,738.3)"><rect y="-2.2" width="15" height="4.4" rx="2"/><path d="M2,0h9"/></g>
<g id="n376_747" class="m" transform="translate(376,747.7)"><rect y="-2.2" width="11" height="4.4" rx="2"/><path d="M2,0h5"/></g>
<g id="n376_753" class="m" transform="translate(376,753.3)"><rect y="-2.2" width="11" height="4.4" rx="2"/><path d="M2,0h5"/></g>
<g id="n376_758" class="f" transform="translate(376,758.7)"><rect y="-2.2" width="15" height="4.4" rx="2"/><path d="M2,0h9"/></g>
<g id="n376_764" class="f" transform="translate(376,764)"><rect y="-2.2" width="15" height="4.4" rx="2"/><path d="M2,0h9"/></g>
<g id="n376_769" class="f" transform="translate(376,769.3)"><rect y="-2.2" width="23" height="4.4" rx="2"/><path d="M2,0h17"/></g>
<g id="n376_775" class="f" transform="translate(376,775)"><rect y="-2.2" width="21" height="4.4" rx="2"/><path d="M2,0h15"/></g>
<g id="n376_782" class="m" transform="translate(376,782.7)"><rect y="-2.2" width="13" height="4.4" rx="2"/><path d="M2,0h7"/></g>
<g id="n376_788" class="f" transform="translate(376,788)"><rect y="-2.2" width="18" height="4.4" rx="2"/><path d="M2,0h12"/></g>
<g id="n376_798" class="m" transform="translate(376,798.3)"><rect y="-2.2" width="14" height="4.4" rx="2"/><path d="M2,0h8"/></g>
<g id="n376_804" class="f" transform="translate(376,804)"><rect y="-2.2" width="16" height="4.4" rx="2"/><path d="M2,0h10"/></g>

<g id="n468_191" class="m" transform="translate(468,191.7)"><rect y="-2.2" width="14" height="4.4" rx="2"/><path d="M2,0h8"/></g>
<g id="n468_197" class="m" transform="translate(468,197.3)"><rect y="-2.2" width="12" height="4.4" rx="2"/><path d="M2,0h6"/></g>
<g id="n468_203" class="f" transform="translate(468,203.3)"><rect y="-2.2" width="13" height="4.4" rx="2"/><path d="M2,0h7"/></g>
<g id="n468_269" class="m" transform="translate(468,269)"><rect y="-2.2" width="40" height="4.4" rx="2"/><path d="M2,0h34"/></g>
<g id="n468_274" class="m" transform="translate(468,274.7)"><rect y="-2.2" width="15" height="4.4" rx="2"/><path d="M2,0h9"/></g>
<g id="n468_280" class="f" transform="translate(468,280.3)"><rect y="-2.2" width="16" height="4.4" rx="2"/><path d="M2,0h10"/></g>
<g id="n468_296" class="m" transform="translate(468,296.7)"><rect y="-2.2" width="25" height="4.4" rx="2"/><path d="M2,0h19"/></g>
<g id="n468_302" class="m" transform="translate(468,302.3)"><rect y="-2.2" width="15" height="4.4" rx="2"/><path d="M2,0h9"/></g>
<g id="n468_308" class="m" transform="translate(468,308)"><rect y="-2.2" width="20" height="4.4" rx="2"/><path d="M2,0h14"/></g>
<g id="n468_316" class="m" transform="translate(468,316)"><rect y="-2.2" width="28" height="4.4" rx="2"/><path d="M2,0h22"/></g>
<g id="n468_322" class="f" transform="translate(468,322)"><rect y="-2.2" width="16" height="4.4" rx="2"/><path d="M2,0h10"/></g>
<g id="n468_327" class="m" transform="translate(468,327.5)"><rect y="-2.2" width="22" height="4.4" rx="2"/><path d="M2,0h16"/></g>
<g id="n468_333" class="m" transform="translate(468,333)"><rect y="-2.2" width="24" height="4.4" rx="2"/><path d="M2,0h18"/></g>
<g id="n468_339" class="m" transform="translate(468,339)"><rect y="-2.2" width="27" height="4.4" rx="2"/><path d="M2,0h21"/></g>
<g id="n468_344" class="f" transform="translate(468,344.5)"><rect y="-2.2" width="18" height="4.4" rx="2"/><path d="M2,0h12"/></g>
<g id="n468_356" class="m" transform="translate(468,356)"><rect y="-2.2" width="45" height="4.4" rx="2"/><path d="M2,0h39"/></g>
<g id="n468_371" class="m" transform="translate(468,371.7)"><rect y="-2.2" width="18" height="4.4" rx="2"/><path d="M2,0h12"/></g>
<g id="n468_377" class="m" transform="translate(468,377.3)"><rect y="-2.2" width="12" height="4.4" rx="2"/><path d="M2,0h6"/></g>
<g id="n468_383" class="m" transform="translate(468,383)"><rect y="-2.2" width="19" height="4.4" rx="2"/><path d="M2,0h13"/></g>
<g id="n468_388" class="f" transform="translate(468,388.3)"><rect y="-2.2" width="36" height="4.4" rx="2"/><path d="M2,0h30"/></g>
<g id="n468_393" class="f" transform="translate(468,393.7)"><rect y="-2.2" width="35" height="4.4" rx="2"/><path d="M2,0h29"/></g>
<g id="n468_399" class="f" transform="translate(468,399.3)"><rect y="-2.2" width="29" height="4.4" rx="2"/><path d="M2,0h23"/></g>
<g id="n468_407" class="f" transform="translate(468,407.3)"><rect y="-2.2" width="13" height="4.4" rx="2"/><path d="M2,0h7"/></g>
<g id="n468_424" class="m" transform="translate(468,424)"><rect y="-2.2" width="14" height="4.4" rx="2"/><path d="M2,0h8"/></g>
<g id="n468_430" class="m" transform="translate(468,430)"><rect y="-2.2" width="14" height="4.4" rx="2"/><path d="M2,0h8"/></g>
<g id="n468_437" class="m" transform="translate(468,437.3)"><rect y="-2.2" width="12" height="4.4" rx="2"/><path d="M2,0h6"/></g>
<g id="n468_445" class="m" transform="translate(468,445)"><rect y="-2.2" width="22" height="4.4" rx="2"/><path d="M2,0h16"/></g>
<g id="n468_450" class="m" transform="translate(468,450.7)"><rect y="-2.2" width="24" height="4.4" rx="2"/><path d="M2,0h18"/></g>
<g id="n468_456" class="f" transform="translate(468,456)"><rect y="-2.2" width="31" height="4.4" rx="2"/><path d="M2,0h25"/></g>
<g id="n468_462" class="m" transform="translate(468,462)"><rect y="-2.2" width="26" height="4.4" rx="2"/><path d="M2,0h20"/></g>
<g id="n468_467" class="f" transform="translate(468,467.3)"><rect y="-2.2" width="19" height="4.4" rx="2"/><path d="M2,0h13"/></g>
<g id="n468_473" class="m" transform="translate(468,473.3)"><rect y="-2.2" width="30" height="4.4" rx="2"/><path d="M2,0h24"/></g>
<g id="n468_481" class="m" transform="translate(468,481.7)"><rect y="-2.2" width="24" height="4.4" rx="2"/><path d="M2,0h18"/></g>
<g id="n468_487" class="f" transform="translate(468,487.7)"><rect y="-2.2" width="16" height="4.4" rx="2"/><path d="M2,0h10"/></g>
<g id="n468_496" class="m" transform="translate(468,496)"><rect y="-2.2" width="12" height="4.4" rx="2"/><path d="M2,0h6"/></g>
<g id="n468_501" class="f" transform="translate(468,501.7)"><rect y="-2.2" width="13" height="4.4" rx="2"/><path d="M2,0h7"/></g>
<g id="n468_510" class="m" transform="translate(468,510.7)"><rect y="-2.2" width="11" height="4.4" rx="2"/><path d="M2,0h5"/></g>
<g id="n468_515" class="m" transform="translate(468,515.7)"><rect y="-2.2" width="15" height="4.4" rx="2"/><path d="M2,0h9"/></g>
<g id="n468_521" class="f" transform="translate(468,521.7)"><rect y="-2.2" width="15" height="4.4" rx="2"/><path d="M2,0h9"/></g>
<g id="n468_569" class="f" transform="translate(468,569)"><rect y="-2.2" width="36" height="4.4" rx="2"/><path d="M2,0h30"/></g>
<g id="n468_580" class="m" transform="translate(468,580)"><rect y="-2.2" width="14" height="4.4" rx="2"/><path d="M2,0h8"/></g>
<g id="n468_585" class="m" transform="translate(468,585.7)"><rect y="-2.2" width="14" height="4.4" rx="2"/><path d="M2,0h8"/></g>
<g id="n468_591" class="m" transform="translate(468,591)"><rect y="-2.2" width="10" height="4.4" rx="2"/><path d="M2,0h4"/></g>
<g id="n468_596" class="m" transform="translate(468,596.5)"><rect y="-2.2" width="13" height="4.4" rx="2"/><path d="M2,0h7"/></g>
<g id="n468_602" class="f" transform="translate(468,602.3)"><rect y="-2.2" width="13" height="4.4" rx="2"/><path d="M2,0h7"/></g>
<g id="n468_729" class="m" transform="translate(468,729.3)"><rect y="-2.2" width="15" height="4.4" rx="2"/><path d="M2,0h9"/></g>
<g id="n468_736" class="m" transform="translate(468,736.7)"><rect y="-2.2" width="14" height="4.4" rx="2"/><path d="M2,0h8"/></g>
<g id="n468_743" class="f" transform="translate(468,743.3)"><rect y="-2.2" width="15" height="4.4" rx="2"/><path d="M2,0h9"/></g>
<g id="n468_783" class="m" transform="translate(468,783.3)"><rect y="-2.2" width="12" height="4.4" rx="2"/><path d="M2,0h6"/></g>
<g id="n468_789" class="f" transform="translate(468,789.3)"><rect y="-2.2" width="16" height="4.4" rx="2"/><path d="M2,0h10"/></g>
<g id="n468_796" class="f" transform="translate(468,796.7)"><rect y="-2.2" width="19" height="4.4" rx="2"/><path d="M2,0h13"/></g>
<g id="n468_802" class="f" transform="translate(468,802)"><rect y="-2.2" width="11" height="4.4" rx="2"/><path d="M2,0h5"/></g>
<g id="n468_807" class="f" transform="translate(468,807.7)"><rect y="-2.2" width="11" height="4.4" rx="2"/><path d="M2,0h5"/></g>

<g id="n538_278" class="m" transform="translate(538,278)"><rect y="-2.2" width="18" height="4.4" rx="2"/><path d="M2,0h12"/></g>
<g id="n538_357" class="m" transform="translate(538,357)"><rect y="-2.2" width="9" height="4.4" rx="2"/><path d="M2,0h3"/></g>
<g id="n538_443" class="f" transform="translate(538,443.3)"><rect y="-2.2" width="15" height="4.4" rx="2"/><path d="M2,0h9"/></g>
<g id="n538_449" class="m" transform="translate(538,449)"><rect y="-2.2" width="8" height="4.4" rx="2"/><path d="M2,0h2"/></g>
<g id="n538_454" class="f" transform="translate(538,454.3)"><rect y="-2.2" width="12" height="4.4" rx="2"/><path d="M2,0h6"/></g>
<g id="n538_460" class="f" transform="translate(538,460)"><rect y="-2.2" width="14" height="4.4" rx="2"/><path d="M2,0h8"/></g>
<g id="n538_466" class="m" transform="translate(538,466.7)"><rect y="-2.2" width="18" height="4.4" rx="2"/><path d="M2,0h12"/></g>
<g id="n538_472" class="m" transform="translate(538,472.7)"><rect y="-2.2" width="14" height="4.4" rx="2"/><path d="M2,0h8"/></g>
<g id="n538_490" class="m" transform="translate(538,490)"><rect y="-2.2" width="21" height="4.4" rx="2"/><path d="M2,0h15"/></g>
<g id="n538_497" class="m" transform="translate(538,497)"><rect y="-2.2" width="16" height="4.4" rx="2"/><path d="M2,0h10"/></g>
<g id="n538_503" class="f" transform="translate(538,503.3)"><rect y="-2.2" width="15" height="4.4" rx="2"/><path d="M2,0h9"/></g>
<g id="n538_510" class="m" transform="translate(538,510)"><rect y="-2.2" width="16" height="4.4" rx="2"/><path d="M2,0h10"/></g>
<g id="n538_599" class="m" transform="translate(538,599)"><rect y="-2.2" width="12" height="4.4" rx="2"/><path d="M2,0h6"/></g>
<g id="n538_604" class="m" transform="translate(538,604.3)"><rect y="-2.2" width="16" height="4.4" rx="2"/><path d="M2,0h10"/></g>
<g id="n538_610" class="m" transform="translate(538,610)"><rect y="-2.2" width="23" height="4.4" rx="2"/><path d="M2,0h17"/></g>
<g id="n538_738" class="m" transform="translate(538,738.3)"><rect y="-2.2" width="16" height="4.4" rx="2"/><path d="M2,0h10"/></g>
<g id="n538_744" class="f" transform="translate(538,744)"><rect y="-2.2" width="15" height="4.4" rx="2"/><path d="M2,0h9"/></g>
<g id="n538_785" class="m" transform="translate(538,785)"><rect y="-2.2" width="20" height="4.4" rx="2"/><path d="M2,0h14"/></g>
<g id="n585_461" class="m" transform="translate(585,461.7)"><rect y="-2.2" width="27" height="4.4" rx="2"/><path d="M2,0h21"/></g>
<g id="n585_784" class="m" transform="translate(585,784)"><rect y="-2.2" width="14" height="4.4" rx="2"/><path d="M2,0h8"/></g>
<g id="n585_790" class="f" transform="translate(585,790)"><rect y="-2.2" width="21" height="4.4" rx="2"/><path d="M2,0h15"/></g>
<g id="n637_788" class="m" transform="translate(637,788)"><rect y="-2.2" width="11" height="4.4" rx="2"/><path d="M2,0h5"/></g>
</g>

<g id="marriages">
<use xlink:href="#x" x="40" y="480"/><use xlink:href="#x" x="81" y="98"/><use xlink:href="#x" x="136" y="69"/><use xlink:href="#x" x="136" y="127"/><use xlink:href="#x" x="187" y="155"/><use xlink:href="#x" x="80" y="595"/><use xlink:href="#x" x="80" y="853"/><use xlink:href="#x" x="135" y="858"/><use xlink:href="#x" x="187" y="841"/><use xlink:href="#x" x="187" y="523"/><use xlink:href="#x" x="187" y="672"/>
<use xlink:href="#x" x="276" y="197.7"/><use xlink:href="#x" x="276" y="228.3"/><use xlink:href="#x" x="276" y="262.3"/><use xlink:href="#x" x="276" y="290"/><use xlink:href="#x" x="276" y="324"/><use xlink:href="#x" x="276" y="350"/><use xlink:href="#x" x="276" y="362"/><use xlink:href="#x" x="276" y="390.7"/><use xlink:href="#x" x="276" y="418.3"/><use xlink:href="#x" x="276" y="455"/><use xlink:href="#x" x="276" y="495.3"/><use xlink:href="#x" x="276" y="569"/><use xlink:href="#x" x="276" y="597.7"/><use xlink:href="#x" x="276" y="631.7"/><use xlink:href="#x" x="276" y="681.7"/><use xlink:href="#x" x="276" y="711.7"/>
<use xlink:href="#x" x="378" y="199"/><use xlink:href="#x" x="378" y="276"/><use xlink:href="#x" x="378" y="305"/><use xlink:href="#x" x="378" y="325"/><use xlink:href="#x" x="378" y="341"/><use xlink:href="#x" x="378" y="360"/><use xlink:href="#x" x="378" y="391"/><use xlink:href="#x" x="378" y="432"/><use xlink:href="#x" x="378" y="437.3"/><use xlink:href="#x" x="378" y="460"/><use xlink:href="#x" x="378" y="484"/><use xlink:href="#x" x="378" y="517.3"/><use xlink:href="#x" x="378" y="598"/><use xlink:href="#x" x="378" y="733"/><use xlink:href="#x" x="378" y="741"/><use xlink:href="#x" x="378" y="791"/><use xlink:href="#x" x="378" y="807"/>
<use xlink:href="#x" x="468" y="277"/><use xlink:href="#x" x="468" y="359"/><use xlink:href="#x" x="470" y="459"/><use xlink:href="#x" x="470" y="505"/><use xlink:href="#x" x="470" y="519"/><use xlink:href="#x" x="470" y="605"/><use xlink:href="#x" x="470" y="746"/><use xlink:href="#x" x="468" y="792"/>
<use xlink:href="#x" x="538" y="463"/><use xlink:href="#x" x="538" y="493.5"/><use xlink:href="#x" x="538" y="506.5"/><use xlink:href="#x" x="538" y="747"/><use xlink:href="#x" x="538" y="789"/><use xlink:href="#x" x="585" y="793"/>
</g>
</svg>
